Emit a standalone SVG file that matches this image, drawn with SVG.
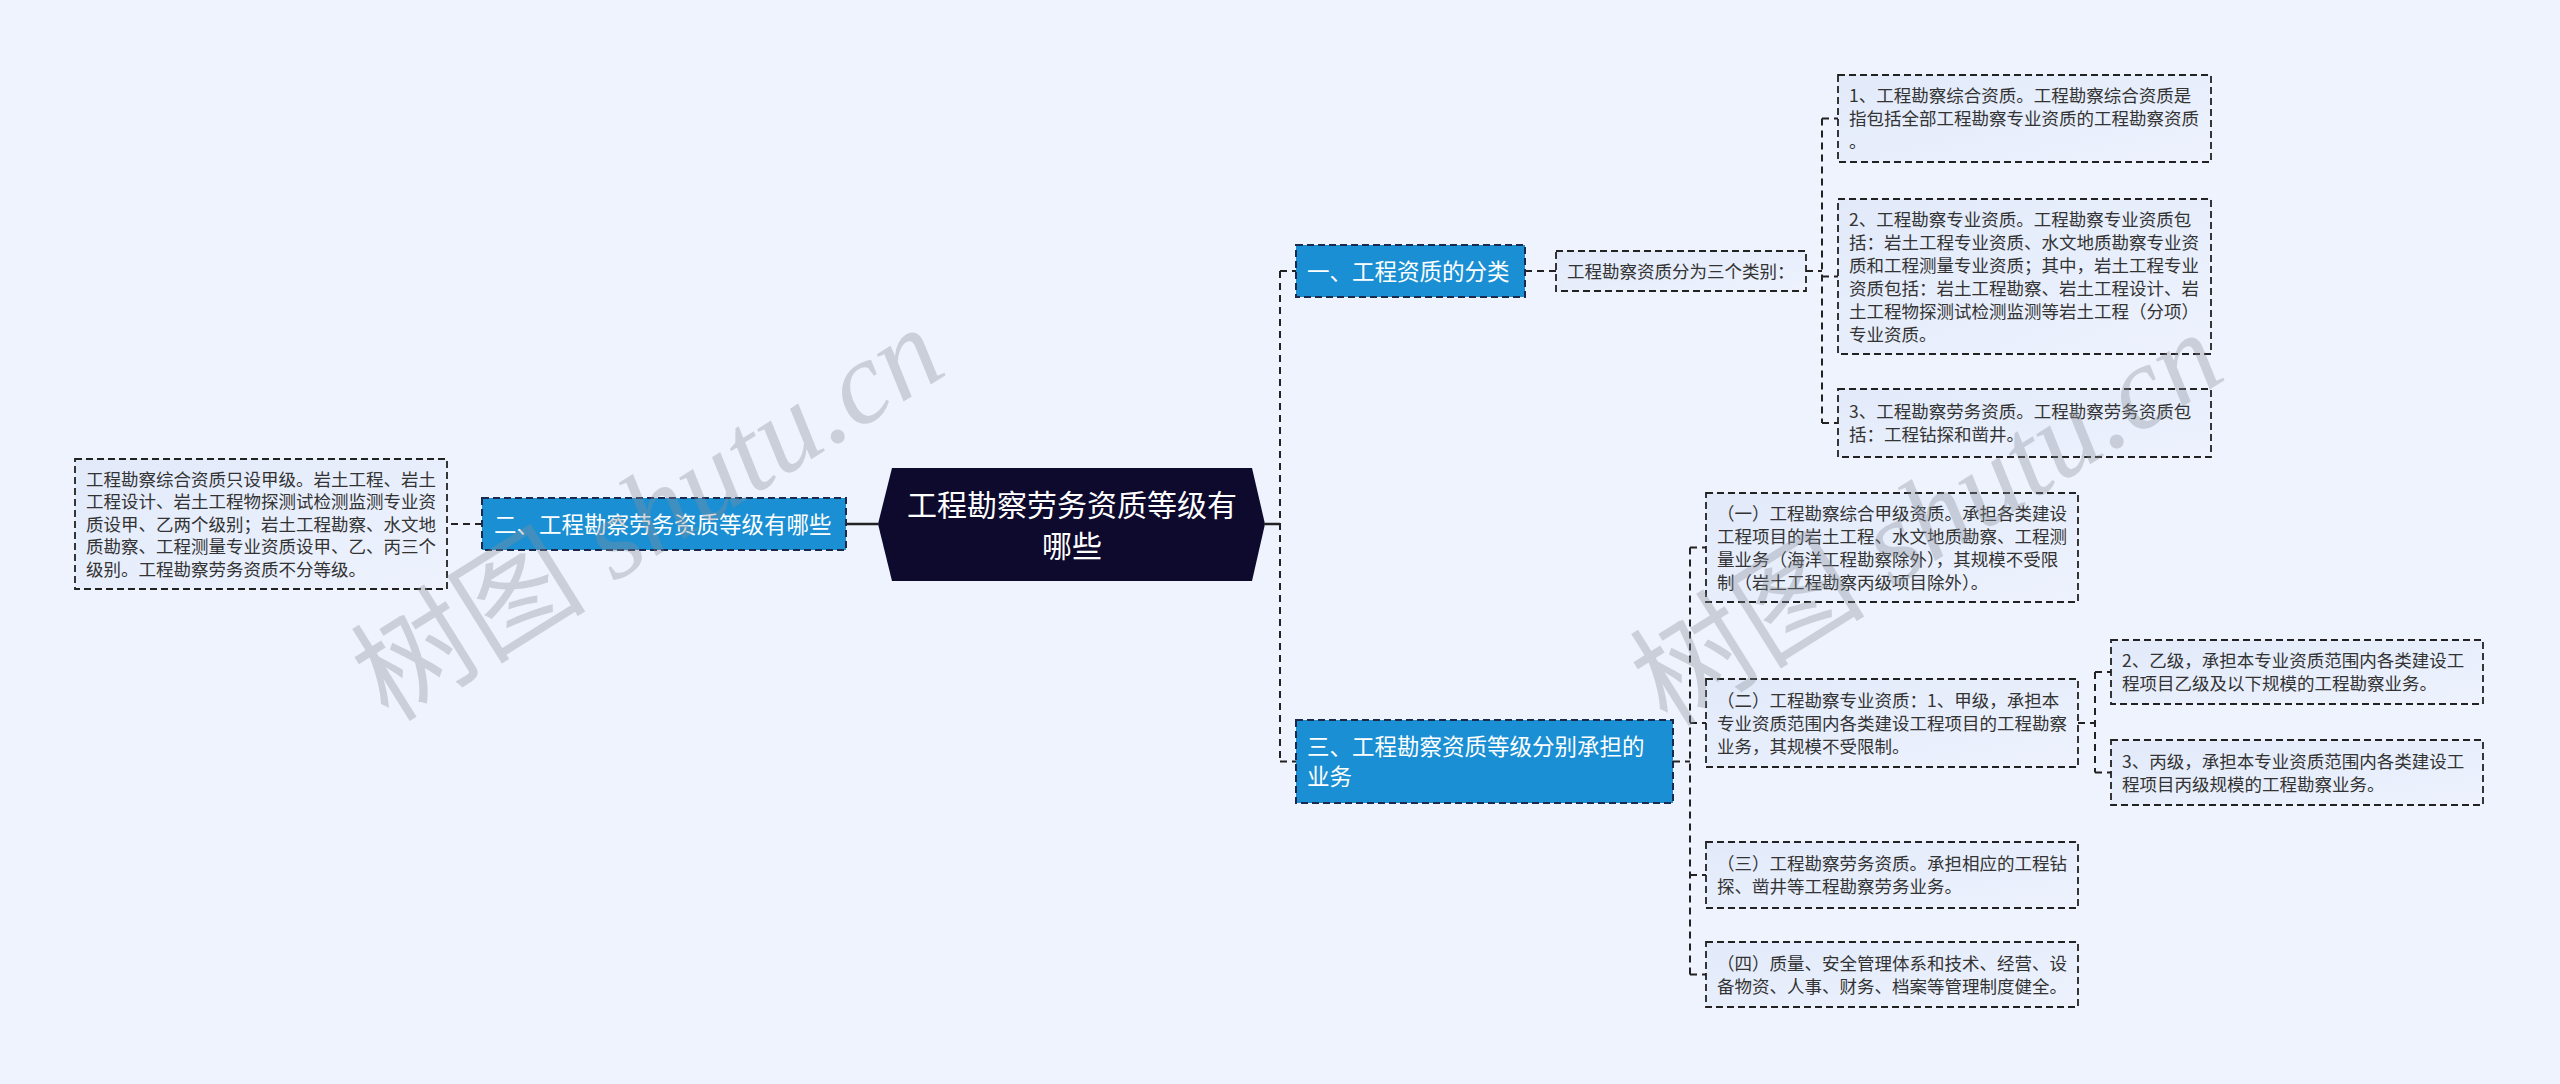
<svg xmlns="http://www.w3.org/2000/svg" width="2560" height="1084" viewBox="0 0 2560 1084">
<defs>
<linearGradient id="leafGrad" x1="0" y1="0" x2="1" y2="1">
<stop offset="0" stop-color="#e2eafa"/>
<stop offset="1" stop-color="#edf2fd"/>
</linearGradient>
<style>
.bg{fill:#eef3fd}
.leaf{fill:url(#leafGrad);stroke:#222;stroke-width:1.8;stroke-dasharray:7 4}
.branch{fill:#1a8fd3;stroke:#1b2a4a;stroke-width:2;stroke-dasharray:7 4}
.center{fill:#0d0a2e}
.lt{font-family:"Noto Sans CJK SC","Noto Sans",sans-serif;font-size:17.5px;fill:#333}
.bt{font-family:"Noto Sans CJK SC","Noto Sans",sans-serif;font-size:22.5px;fill:#fff}
.ct{font-family:"Noto Sans CJK SC","Noto Sans",sans-serif;font-size:30px;fill:#fff}
.dash{fill:none;stroke:#222;stroke-width:2;stroke-dasharray:7 5}
.solid{fill:none;stroke:#222;stroke-width:2.5}
.wm{font-family:"Liberation Serif","Noto Sans CJK SC",serif;font-size:118px;fill:#8a8f99;opacity:0.35}
</style>
</defs>
<rect class="bg" x="0" y="0" width="2560" height="1084"/>

<g id="connectors">
<path class="solid" d="M1265 524 H1280"/>
<path class="dash" d="M1280 271 V761.5 M1280 271 H1296 M1280 761.5 H1296"/>
<path class="solid" d="M878 524 H846"/>
<path class="dash" d="M482 524 H447"/>
<path class="dash" d="M1525 271 H1556"/>
<path class="dash" d="M1806 271 H1822 M1822 118.5 V423 M1822 118.5 H1838 M1822 276.5 H1838 M1822 423 H1838"/>
<path class="dash" d="M1673 761.5 H1690 M1690 547.5 V974.5 M1690 547.5 H1706 M1690 723 H1706 M1690 875 H1706 M1690 974.5 H1706"/>
<path class="dash" d="M2078 723 H2095 M2095 672 V772.5 M2095 672 H2111 M2095 772.5 H2111"/>
</g>

<g id="center">
<polygon class="center" points="892,468 1252,468 1265,524 1252,581 892,581 878,524"/>
<text class="ct" x="1072" y="515.5" text-anchor="middle">工程勘察劳务资质等级有</text>
<text class="ct" x="1072" y="556.5" text-anchor="middle">哪些</text>
</g>

<g id="branch-left">
<rect class="branch" x="482" y="498" width="364" height="52"/>
<text class="bt" x="494" y="532.5">二、工程勘察劳务资质等级有哪些</text>
</g>

<g id="leaf-left">
<rect class="leaf" x="75" y="459" width="372" height="130"/>
<text class="lt" x="86" y="485.6">工程勘察综合资质只设甲级。岩土工程、岩土</text>
<text class="lt" x="86" y="508.1">工程设计、岩土工程物探测试检测监测专业资</text>
<text class="lt" x="86" y="530.6">质设甲、乙两个级别；岩土工程勘察、水文地</text>
<text class="lt" x="86" y="553.1">质勘察、工程测量专业资质设甲、乙、丙三个</text>
<text class="lt" x="86" y="575.6">级别。工程勘察劳务资质不分等级。</text>
</g>

<g id="branch-1">
<rect class="branch" x="1296" y="245" width="229" height="52"/>
<text class="bt" x="1307" y="279.5">一、工程资质的分类</text>
</g>

<g id="sub-1">
<rect class="leaf" x="1556" y="251" width="250" height="40"/>
<text class="lt" x="1567" y="277.6">工程勘察资质分为三个类别：</text>
</g>

<g id="leaf-1-1">
<rect class="leaf" x="1838" y="75" width="373" height="87"/>
<text class="lt" x="1849" y="102.1">1、工程勘察综合资质。工程勘察综合资质是</text>
<text class="lt" x="1849" y="125.1">指包括全部工程勘察专业资质的工程勘察资质</text>
<text class="lt" x="1849" y="148.1">。</text>
</g>

<g id="leaf-1-2">
<rect class="leaf" x="1838" y="199" width="373" height="155"/>
<text class="lt" x="1849" y="225.6">2、工程勘察专业资质。工程勘察专业资质包</text>
<text class="lt" x="1849" y="248.6">括：岩土工程专业资质、水文地质勘察专业资</text>
<text class="lt" x="1849" y="271.6">质和工程测量专业资质；其中，岩土工程专业</text>
<text class="lt" x="1849" y="294.6">资质包括：岩土工程勘察、岩土工程设计、岩</text>
<text class="lt" x="1849" y="317.6">土工程物探测试检测监测等岩土工程（分项）</text>
<text class="lt" x="1849" y="340.6">专业资质。</text>
</g>

<g id="leaf-1-3">
<rect class="leaf" x="1838" y="389" width="373" height="68"/>
<text class="lt" x="1849" y="418.1">3、工程勘察劳务资质。工程勘察劳务资质包</text>
<text class="lt" x="1849" y="441.1">括：工程钻探和凿井。</text>
</g>

<g id="branch-3">
<rect class="branch" x="1296" y="720" width="377" height="83"/>
<text class="bt" x="1307" y="755">三、工程勘察资质等级分别承担的</text>
<text class="bt" x="1307" y="785">业务</text>
</g>

<g id="leaf-3-1">
<rect class="leaf" x="1706" y="493" width="372" height="109"/>
<text class="lt" x="1717" y="519.6">（一）工程勘察综合甲级资质。承担各类建设</text>
<text class="lt" x="1717" y="542.6">工程项目的岩土工程、水文地质勘察、工程测</text>
<text class="lt" x="1717" y="565.6">量业务（海洋工程勘察除外），其规模不受限</text>
<text class="lt" x="1717" y="588.6">制（岩土工程勘察丙级项目除外）。</text>
</g>

<g id="leaf-3-2">
<rect class="leaf" x="1706" y="679" width="372" height="88"/>
<text class="lt" x="1717" y="706.6">（二）工程勘察专业资质：1、甲级，承担本</text>
<text class="lt" x="1717" y="729.6">专业资质范围内各类建设工程项目的工程勘察</text>
<text class="lt" x="1717" y="752.6">业务，其规模不受限制。</text>
</g>

<g id="leaf-3-2-1">
<rect class="leaf" x="2111" y="640" width="372" height="64"/>
<text class="lt" x="2122" y="667.1">2、乙级，承担本专业资质范围内各类建设工</text>
<text class="lt" x="2122" y="690.1">程项目乙级及以下规模的工程勘察业务。</text>
</g>

<g id="leaf-3-2-2">
<rect class="leaf" x="2111" y="740" width="372" height="65"/>
<text class="lt" x="2122" y="767.6">3、丙级，承担本专业资质范围内各类建设工</text>
<text class="lt" x="2122" y="790.6">程项目丙级规模的工程勘察业务。</text>
</g>

<g id="leaf-3-3">
<rect class="leaf" x="1706" y="842" width="372" height="66"/>
<text class="lt" x="1717" y="870.1">（三）工程勘察劳务资质。承担相应的工程钻</text>
<text class="lt" x="1717" y="893.1">探、凿井等工程勘察劳务业务。</text>
</g>

<g id="leaf-3-4">
<rect class="leaf" x="1706" y="942" width="372" height="65"/>
<text class="lt" x="1717" y="969.6">（四）质量、安全管理体系和技术、经营、设</text>
<text class="lt" x="1717" y="992.6">备物资、人事、财务、档案等管理制度健全。</text>
</g>

<g id="watermarks">
<text class="wm" transform="translate(648,514) rotate(-32)" text-anchor="middle" y="40">树图 <tspan font-style="italic">shutu.cn</tspan></text>
<text class="wm" transform="translate(1927,519) rotate(-32)" text-anchor="middle" y="40">树图 <tspan font-style="italic">shutu.cn</tspan></text>
</g>
</svg>
